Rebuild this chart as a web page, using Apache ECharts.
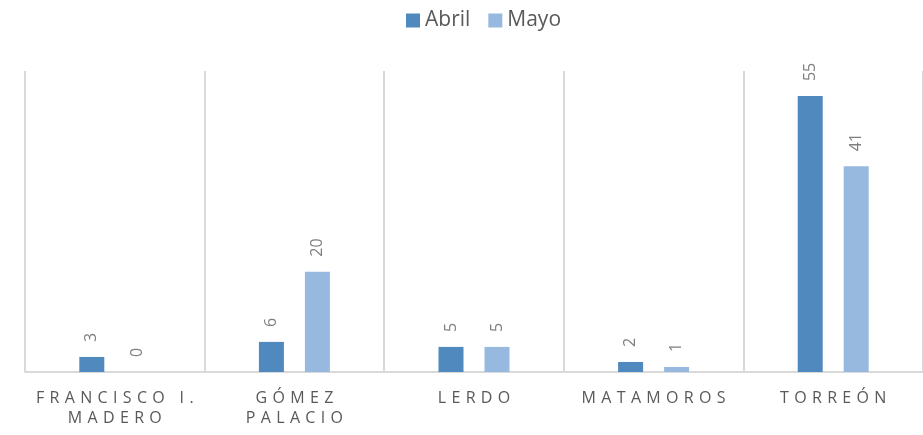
<!DOCTYPE html>
<html>
<head>
<meta charset="utf-8">
<script src="https://cdn.jsdelivr.net/npm/echarts@6/dist/echarts.min.js"></script>
<style>
  html, body { margin: 0; padding: 0; background: #fff; }
  #main { width: 923px; height: 435px; }
</style>
</head>
<body>
<div id="main"></div>
<script>
var categories = ["FRANCISCO I.\nMADERO", "GÓMEZ\nPALACIO", "LERDO", "MATAMOROS", "TORREÓN"];
var abril = [3, 6, 5, 2, 55];
var mayo = [0, 20, 5, 1, 41];
var seriesNames = ["Abril", "Mayo"];

var font = "'Open Sans', 'Noto Sans', sans-serif";

// Excel-like letter spacing: put a 1/3 em space between characters
function spaced(text) {
  return text.split("\n").map(function(line) {
    return line.split("").join("\u2004");
  }).join("\n");
}

var valueLabel = {
  show: true,
  position: "top",
  rotate: 90,
  align: "left",
  verticalAlign: "middle",
  distance: 15,
  color: "#7f7f7f",
  fontSize: 16,
  fontFamily: font
};

var myChart = echarts.init(document.getElementById("main"));
var option = {
  animation: false,
  legend: {
    data: seriesNames,
    left: 401,
    top: 5,
    itemWidth: 14,
    itemHeight: 14,
    itemGap: 18,
    icon: "rect",
    textStyle: { color: "#595959", fontSize: 21, fontFamily: font }
  },
  grid: {
    left: 25,
    top: 71,
    width: 900,
    bottom: 63
  },
  xAxis: {
    type: "category",
    data: categories,
    axisTick: { show: false },
    axisLine: { lineStyle: { color: "#d9d9d9", width: 2 } },
    splitLine: { show: true, interval: 0, lineStyle: { color: "#d9d9d9", width: 2 } },
    axisLabel: {
      interval: 0,
      margin: 16,
      color: "#595959",
      fontSize: 16,
      lineHeight: 20,
      fontFamily: font,
      formatter: spaced
    }
  },
  yAxis: {
    type: "value",
    min: 0,
    max: 60,
    show: false,
    splitLine: { show: false }
  },
  series: [
    {
      name: seriesNames[0],
      type: "bar",
      data: abril,
      barWidth: 25,
      barGap: "84%",
      itemStyle: { color: "#4f89bd" },
      label: valueLabel
    },
    {
      name: seriesNames[1],
      type: "bar",
      data: mayo,
      barWidth: 25,
      itemStyle: { color: "#98b9df" },
      label: valueLabel
    }
  ]
};
myChart.setOption(option);
</script>
</body>
</html>
